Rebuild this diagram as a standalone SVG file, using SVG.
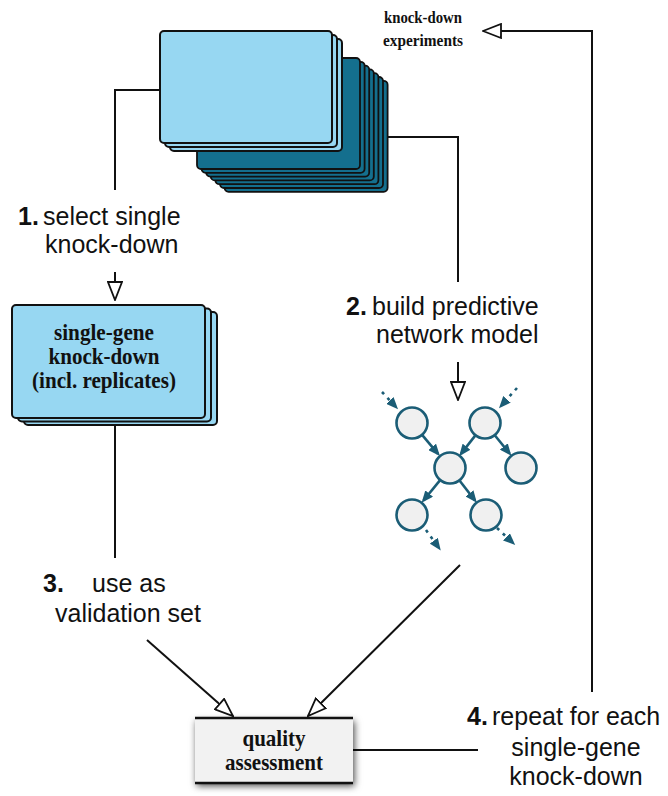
<svg xmlns="http://www.w3.org/2000/svg" width="668" height="796" viewBox="0 0 668 796">
<style>
.lab{font-family:"Liberation Sans",Arial,sans-serif;font-size:25px;fill:#111}
.num{font-family:"Liberation Sans",Arial,sans-serif;font-size:25px;font-weight:bold;fill:#111}
.bs{font-family:"Liberation Serif","Times New Roman",serif;font-weight:bold;fill:#111;text-anchor:middle}
.light{fill:#97d7f2;stroke:#111;stroke-width:2}
.dark{fill:#146f8e;stroke:#111;stroke-width:1.8}
.conn{fill:none;stroke:#111;stroke-width:2}
.net{fill:none;stroke:#1b5d76;stroke-width:2.6}
.dash{stroke-dasharray:3 5}
.node{fill:#f0f0f0;stroke:#1b5d76;stroke-width:2.6}
</style>
<defs>
<marker id="open" viewBox="0 0 20 16" refX="19" refY="8" markerWidth="20" markerHeight="16" markerUnits="userSpaceOnUse" orient="auto">
<path d="M1,1 L19,8 L1,15 Z" fill="#fff" stroke="#111" stroke-width="1.8"/>
</marker>
<marker id="fill" viewBox="0 0 12 10" refX="9" refY="5" markerWidth="12" markerHeight="10" markerUnits="userSpaceOnUse" orient="auto">
<path d="M0,0 L12,5 L0,10 Z" fill="#1b5d76"/>
</marker>
<filter id="shadow" x="-20%" y="-30%" width="140%" height="160%">
<feDropShadow dx="1.5" dy="3" stdDeviation="3.5" flood-color="#000" flood-opacity="0.7"/>
</filter>
</defs>

<g id="connectors">
<path class="conn" d="M160,90 H115 V190"/>
<path class="conn" d="M115,272 V300" marker-end="url(#open)"/>
<path class="conn" d="M115,425 V558"/>
<path class="conn" d="M388,137 H458 V282"/>
<path class="conn" d="M458,362 V400" marker-end="url(#open)"/>
<path class="conn" d="M147,640 L233,716" marker-end="url(#open)"/>
<path class="conn" d="M460,565 L308,716" marker-end="url(#open)"/>
<path class="conn" d="M353,750 H478"/>
<path class="conn" d="M592,692 V31 H483" marker-end="url(#open)"/>
</g>

<g id="knockdown-experiments">
<rect class="dark" x="224.6" y="80.8" width="163" height="111" rx="4"/>
<rect class="dark" x="220" y="77" width="163" height="111" rx="4"/>
<rect class="dark" x="215.4" y="73.2" width="163" height="111" rx="4"/>
<rect class="dark" x="210.8" y="69.4" width="163" height="111" rx="4"/>
<rect class="dark" x="206.2" y="65.6" width="163" height="111" rx="4"/>
<rect class="dark" x="201.6" y="61.8" width="163" height="111" rx="4"/>
<rect class="dark" x="197" y="58" width="163" height="111" rx="4"/>
<rect class="light" x="170" y="39" width="172" height="112" rx="4"/>
<rect class="light" x="165" y="35" width="172" height="112" rx="4"/>
<rect class="light" x="160" y="31" width="172" height="112" rx="4"/>
<text class="bs" font-size="17" x="423" y="23" textLength="78" lengthAdjust="spacingAndGlyphs">knock-down</text>
<text class="bs" font-size="17" x="423" y="46" textLength="80" lengthAdjust="spacingAndGlyphs">experiments</text>
</g>

<g id="step1">
<text class="num" x="18" y="225">1.</text>
<text class="lab" x="43" y="225">select single</text>
<text class="lab" x="45" y="253">knock-down</text>
</g>

<g id="single-gene">
<rect class="light" x="24" y="312" width="193" height="113" rx="4"/>
<rect class="light" x="18" y="308.5" width="193" height="113" rx="4"/>
<rect class="light" x="12" y="305" width="193" height="113" rx="4"/>
<text class="bs" font-size="23" x="104" y="340" textLength="100" lengthAdjust="spacingAndGlyphs">single-gene</text>
<text class="bs" font-size="23" x="104" y="364" textLength="111" lengthAdjust="spacingAndGlyphs">knock-down</text>
<text class="bs" font-size="23" x="104" y="388" textLength="144" lengthAdjust="spacingAndGlyphs">(incl. replicates)</text>
</g>

<g id="step2">
<text class="num" x="346" y="315">2.</text>
<text class="lab" x="372" y="315">build predictive</text>
<text class="lab" x="376" y="343">network model</text>
</g>

<g id="network">
<path class="net dash" d="M382,392 L396,407" marker-end="url(#fill)"/>
<path class="net dash" d="M517,388 L501,406" marker-end="url(#fill)"/>
<path class="net" d="M422.3,435.2 L438,453.8" marker-end="url(#fill)"/>
<path class="net" d="M475.2,435.6 L461,453.8" marker-end="url(#fill)"/>
<path class="net" d="M495,435.5 L509.5,453.5" marker-end="url(#fill)"/>
<path class="net" d="M439.9,480.4 L423.5,500.5" marker-end="url(#fill)"/>
<path class="net" d="M459.7,480.7 L475,500.5" marker-end="url(#fill)"/>
<path class="net dash" d="M426,530 L439,548" marker-end="url(#fill)"/>
<path class="net dash" d="M497,528 L513,543" marker-end="url(#fill)"/>
<circle class="node" cx="412" cy="423" r="15.5"/>
<circle class="node" cx="485" cy="423" r="15.5"/>
<circle class="node" cx="450" cy="468" r="15.5"/>
<circle class="node" cx="521" cy="468" r="15.5"/>
<circle class="node" cx="412" cy="515" r="15.5"/>
<circle class="node" cx="486" cy="515" r="15.5"/>
</g>

<g id="step3">
<text class="num" x="43" y="592">3.</text>
<text class="lab" x="92" y="592">use as</text>
<text class="lab" x="55" y="622">validation set</text>
</g>

<g id="quality">
<rect x="195" y="718" width="158" height="65" fill="#f2f2f2" filter="url(#shadow)"/>
<line x1="195" y1="718" x2="353" y2="718" stroke="#111" stroke-width="2.5"/>
<line x1="195" y1="783" x2="353" y2="783" stroke="#111" stroke-width="2.5"/>
<text class="bs" font-size="23" x="274" y="746" textLength="63" lengthAdjust="spacingAndGlyphs">quality</text>
<text class="bs" font-size="23" x="274" y="770" textLength="98" lengthAdjust="spacingAndGlyphs">assessment</text>
</g>

<g id="step4">
<text class="num" x="467" y="725">4.</text>
<text class="lab" x="492" y="725">repeat for each</text>
<text class="lab" x="576" y="756" text-anchor="middle">single-gene</text>
<text class="lab" x="576" y="785" text-anchor="middle">knock-down</text>
</g>
</svg>
